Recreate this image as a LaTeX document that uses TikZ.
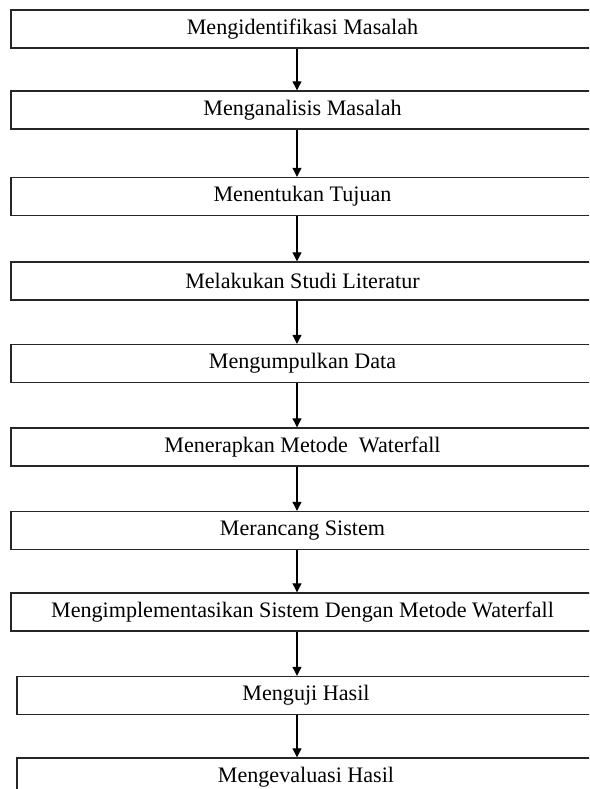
\documentclass[tikz,border=0pt]{standalone}
\usepackage{fontspec}
\setmainfont{Liberation Serif}
\usetikzlibrary{arrows.meta}
\begin{document}
\begin{tikzpicture}[x=1pt,y=-1pt,
  stepbox/.style={draw=black!85, line width=1.4pt, minimum height=38pt,
    inner sep=0pt, font=\fontsize{22.1}{26}\selectfont},
  widebox/.style={stepbox, minimum width=583pt},
  narrowbox/.style={stepbox, minimum width=578pt},
  flow/.style={draw=black, line width=1.1pt, -{Triangle[width=9pt,length=9pt]}}]
\useasboundingbox (0,0) rectangle (589,789);
\clip (0,0) rectangle (589,789);

% process steps
\node[widebox]   (b1)  at (302.5,29)    {Mengidentifikasi Masalah};
\node[widebox]   (b2)  at (302.5,110)   {Menganalisis Masalah};
\node[widebox]   (b3)  at (302.5,196.5) {Menentukan Tujuan};
\node[widebox]   (b4)  at (302.5,281)   {Melakukan Studi Literatur};
\node[widebox]   (b5)  at (302.5,363.5) {Mengumpulkan Data};
\node[widebox]   (b6)  at (302.5,447)   {Menerapkan Metode \ Waterfall};
\node[widebox]   (b7)  at (302.5,530.5) {Merancang Sistem};
\node[widebox]   (b8)  at (302.5,612)   {Mengimplementasikan Sistem Dengan Metode Waterfall};
\node[narrowbox] (b9)  at (306,695.5)   {Menguji Hasil};
\node[narrowbox] (b10) at (306,777)     {Mengevaluasi Hasil};

% vertical axis of the connectors
\coordinate (ax) at (297,0);

\foreach \a/\b in {b1/b2,b2/b3,b3/b4,b4/b5,b5/b6,b6/b7,b7/b8,b8/b9,b9/b10}
  \draw[flow] (\a.south -| ax) -- (\b.north -| ax);
\end{tikzpicture}
\end{document}
